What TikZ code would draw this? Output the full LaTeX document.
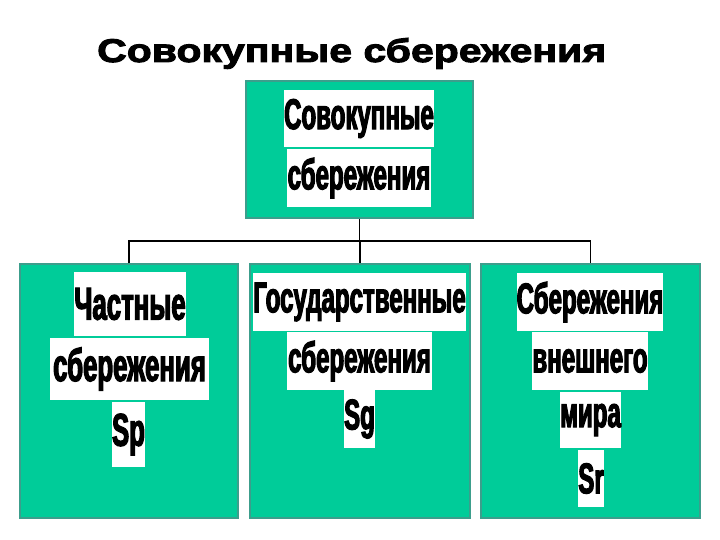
\documentclass[tikz,border=0pt]{standalone}
\usepackage{fontspec}
\setmainfont{Liberation Sans}
\newfontfamily\lblfont[FakeStretch=0.56,FakeBold=2.5]{Liberation Sans}
\newfontfamily\ttlfont[FakeStretch=1.25,FakeBold=3]{Liberation Sans}
\definecolor{teal1}{RGB}{0,204,153}
\definecolor{tealedge}{RGB}{60,158,140}
\begin{document}
\begin{tikzpicture}[x=1pt,y=-1pt,
  box/.style={rectangle, fill=teal1, draw=tealedge, line width=2pt, inner sep=0pt},
  lbl/.style={rectangle, fill=white, inner sep=0pt, text=black,
     font=\lblfont\bfseries\fontsize{43}{43}\selectfont},
  lblL/.style={lbl, font=\lblfont\bfseries\fontsize{46}{46}\selectfont},
  conn/.style={draw=black, line width=1.3pt}]
\path[use as bounding box] (0,0) rectangle (720,540);
% title
\node[anchor=base west, inner sep=0pt] (title) at (97,62)
  {\resizebox{509pt}{!}{\ttlfont\bfseries\fontsize{32}{32}\selectfont Совокупные сбережения}};
% boxes
\node[box, minimum width=227pt, minimum height=137pt] (top) at (359.5,149.5) {};
\node[box, minimum width=218pt, minimum height=254pt] (bl) at (129,391) {};
\node[box, minimum width=220pt, minimum height=254pt] (bm) at (360,391) {};
\node[box, minimum width=219pt, minimum height=254pt] (br) at (590.5,391) {};
% connectors
\coordinate (busL) at (128,241);
\coordinate (busR) at (591,241);
\draw[conn] (top.south) -- (top.south |- busL);
\draw[conn] (busL) -- (busR);
\draw[conn] (bl.north) -- (bl.north |- busL);
\draw[conn] (bm.north) -- (bm.north |- busL);
\draw[conn] (br.north) -- (br.north |- busL);
% top labels
\node[lbl, minimum width=144pt, minimum height=57pt] (t1) at (359,118.5) {Совокупные};
\node[lbl, minimum width=144pt, minimum height=58pt] (t2) at (359,178) {сбережения};
% left labels
\node[lblL, minimum width=112pt, minimum height=64pt] (l1) at (130,304) {Частные};
\node[lblL, minimum width=159pt, minimum height=62pt] (l2) at (129.5,369) {сбережения};
\node[lblL, minimum width=33pt, minimum height=65pt] (l3) at (128.5,434.5) {Sp};
% middle labels
\node[lbl, minimum width=207pt, minimum height=58pt] (m1) at (359.5,302) {Государственные};
\node[lbl, minimum width=145pt, minimum height=58pt] (m2) at (359.5,361) {сбережения};
\node[lbl, minimum width=29pt, minimum height=58pt] (m3) at (359.5,419) {Sg};
% right labels
\node[lbl, minimum width=146pt, minimum height=58pt] (r1) at (590,302) {Сбережения};
\node[lbl, minimum width=116pt, minimum height=58pt] (r2) at (590,361) {внешнего};
\node[lbl, minimum width=59pt, minimum height=56pt] (r3) at (590.5,420) {мира};
\node[lbl, minimum width=24pt, minimum height=57pt] (r4) at (591,478.5) {Sr};
\end{tikzpicture}
\end{document}
